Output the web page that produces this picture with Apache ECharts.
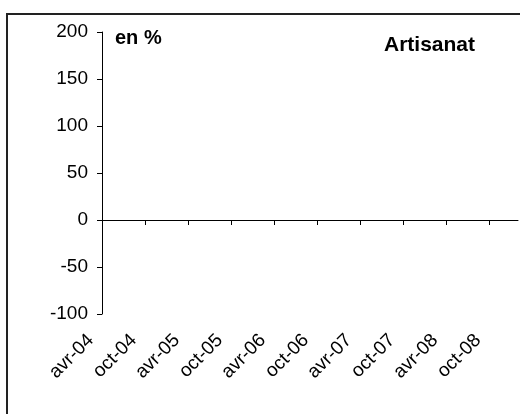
<!DOCTYPE html>
<html>
<head>
<meta charset="utf-8">
<script src="https://cdn.jsdelivr.net/npm/echarts@6/dist/echarts.min.js"></script>
<style>
html,body{margin:0;padding:0;background:#fff;}
#chart{width:520px;height:414px;}
</style>
</head>
<body>
<div id="chart"></div>
<script>
// Monthly categories (French Excel "mmm-yy" format)
const months = [
  'avr-04','mai-04','juin-04','juil-04','août-04','sept-04','oct-04','nov-04','déc-04',
  'janv-05','févr-05','mars-05','avr-05','mai-05','juin-05','juil-05','août-05','sept-05','oct-05','nov-05','déc-05',
  'janv-06','févr-06','mars-06','avr-06','mai-06','juin-06','juil-06','août-06','sept-06','oct-06','nov-06','déc-06',
  'janv-07','févr-07','mars-07','avr-07','mai-07','juin-07','juil-07','août-07','sept-07','oct-07','nov-07','déc-07',
  'janv-08','févr-08','mars-08','avr-08','mai-08','juin-08','juil-08','août-08','sept-08','oct-08','nov-08','déc-08',
  'janv-09','févr-09'
];
// The reference shows no plotted values for this series
const artisanat = [];
// Value axis ticks
const yMin = -100;
const yMax = 200;
const yStep = 50;
const unitLabel = 'en %';
const chartTitle = 'Artisanat';

const FONT = '"Liberation Sans", Arial, Helvetica, sans-serif';
const chart = echarts.init(document.getElementById('chart'), null, {renderer: 'canvas'});
chart.setOption({
  animation: false,
  backgroundColor: '#fff',
  grid: {left: 102, right: 2, top: 32, bottom: 100, containLabel: false},
  xAxis: [
    {
      type: 'category', data: months, boundaryGap: false, position: 'bottom',
      axisLine: {show: true, onZero: true, lineStyle: {color: '#000', width: 1}},
      axisTick: {show: true, interval: 5, length: 5, inside: false, lineStyle: {color: '#000', width: 1}},
      axisLabel: {show: false},
      splitLine: {show: false}
    },
    {
      type: 'category', data: months, boundaryGap: false, position: 'bottom',
      axisLine: {show: false, onZero: false},
      axisTick: {show: false},
      axisLabel: {
        show: true, interval: 5, rotate: 45, margin: 12,
        padding: [0, 16, 0, 0],
        color: '#000', fontSize: 19, fontFamily: FONT
      },
      splitLine: {show: false}
    }
  ],
  yAxis: {
    type: 'value', min: yMin, max: yMax, interval: yStep,
    axisLine: {show: true, onZero: false, lineStyle: {color: '#000', width: 1}},
    axisTick: {show: true, length: 5, lineStyle: {color: '#000', width: 1}},
    axisLabel: {color: '#000', fontSize: 19, fontFamily: FONT, margin: 14},
    splitLine: {show: false}
  },
  series: [
    {name: chartTitle, type: 'line', xAxisIndex: 0, data: artisanat, symbol: 'none',
     lineStyle: {color: '#000', width: 1.5}}
  ],
  graphic: [
    {type: 'rect', silent: true, shape: {x: 7, y: 14, width: 540, height: 440},
     style: {fill: 'none', stroke: '#222', lineWidth: 2}},
    {type: 'text', x: 115, y: 38, silent: true,
     style: {text: unitLabel, font: 'bold 20px ' + FONT, fill: '#000', align: 'left', verticalAlign: 'middle'}},
    {type: 'text', x: 384, y: 45, silent: true,
     style: {text: chartTitle, font: 'bold 21px ' + FONT, fill: '#000', align: 'left', verticalAlign: 'middle'}}
  ]
});
</script>
</body>
</html>
